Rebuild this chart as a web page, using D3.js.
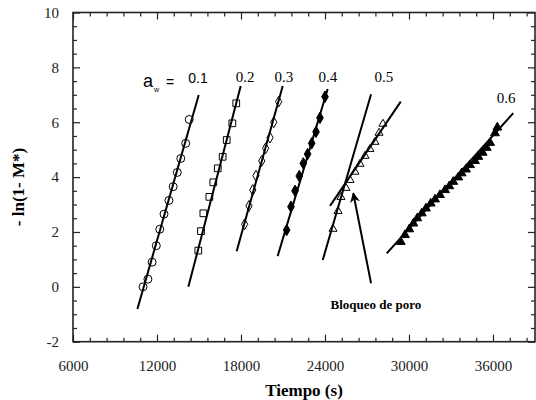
<!DOCTYPE html>
<html>
<head>
<meta charset="utf-8">
<script src="https://cdn.jsdelivr.net/npm/d3@7/dist/d3.min.js"></script>
<style>
  body { margin: 0; background: #fff; }
  svg { display: block; }
</style>
</head>
<body>
<svg id="chart" width="536" height="400"></svg>
<script>
// datos
const t01 = [11000, 11350, 11650, 11950, 12200, 12500, 12850, 13150, 13450, 13700, 14050, 14300]
const v01 = [0.0, 0.28, 0.9, 1.5, 2.1, 2.65, 3.15, 3.65, 4.17, 4.68, 5.23, 6.1]

const t02 = [14950, 15140, 15310, 15740, 16020, 16340, 16690, 16980, 17380, 17660]
const v02 = [1.32, 2.03, 2.68, 3.28, 3.81, 4.32, 4.74, 5.35, 5.96, 6.69]

const t03 = [18260, 18570, 18840, 19070, 19480, 19760, 20070, 20340, 20690]
const v03 = [2.28, 2.95, 3.53, 4.05, 4.59, 5.05, 5.44, 6.0, 6.75]

const t04 = [21260, 21570, 21860, 22160, 22450, 22760, 23050, 23360, 23640, 24000]
const v04 = [2.07, 2.92, 3.5, 4.04, 4.5, 4.84, 5.23, 5.65, 6.16, 6.93]

const t05 = [24570, 24930, 25140, 25500, 25790, 26140, 26500, 26860, 27210, 27570, 27860, 28140]
const v05 = [2.11, 2.76, 3.27, 3.6, 3.89, 4.19, 4.48, 4.77, 5.02, 5.28, 5.61, 5.94]

const t06 = [29410, 29710, 30020, 30310, 30590, 30910, 31210, 31550, 31860, 32210, 32570, 32880,
  33160, 33520, 33760, 34070, 34360, 34710, 34950, 35260, 35550, 35790, 36140, 36310]
const v06 = [1.64, 1.89, 2.1, 2.31, 2.5, 2.68, 2.86, 3.04, 3.19, 3.35, 3.53, 3.67,
  3.83, 3.99, 4.14, 4.28, 4.44, 4.59, 4.74, 4.89, 5.07, 5.25, 5.6, 5.81]

// rectas de ajuste [t1, v1, t2, v2]
const fits = [
  [10600, -0.81, 14980, 6.99],
  [14240, 0.0, 17980, 7.32],
  [17690, 1.3, 20980, 7.32],
  [20620, 1.12, 24190, 7.21],
  [23840, 0.98, 27290, 7.02],
  [24360, 2.95, 29410, 6.75],
  [28410, 1.22, 37450, 6.33]
]

const awLabels = ["0.1", "0.2", "0.3", "0.4", "0.5", "0.6"]
const awLabelT = [14930, 18290, 21070, 24210, 28210, 36930]
const awLabelV = [7.43, 7.47, 7.47, 7.47, 7.47, 6.7]

const xMajor = [6000, 12000, 18000, 24000, 30000, 36000]
const yMajor = [-2, 0, 2, 4, 6, 8, 10]
const xMinor = d3.range(6000, 39001, 1200).filter((d) => d % 6000 !== 0)
const yMinor = d3.range(-2, 10.01, 0.5).filter((d) => d % 2 !== 0)

const SERIF = '"Liberation Serif", "Times New Roman", serif'
const SANS = '"Liberation Sans", Arial, sans-serif'

const svg = d3.select("#chart")

const mLeft = 73, mRight = 535, mTop = 12.5, mBottom = 341.7
const x = d3.scaleLinear().domain([6000, 39000]).range([mLeft, mRight])
const y = d3.scaleLinear().domain([-2, 10]).range([mBottom, mTop])

// ejes (ticks hacia dentro)
function axisGroup(axis, tx, ty) {
  const g = svg.append("g").attr("transform", `translate(${tx},${ty})`).call(axis)
  g.attr("font-family", SERIF).attr("font-size", 15)
  g.select(".domain").remove()
  g.selectAll("line").attr("stroke", "#222").attr("stroke-width", 1.2)
  g.selectAll("text").attr("fill", "#222")
  return g
}

axisGroup(d3.axisBottom(x).tickValues(xMajor).tickSize(-7).tickPadding(18.5).tickFormat((d) => String(d)), 0, mBottom)
axisGroup(d3.axisBottom(x).tickValues(xMinor).tickSize(-4).tickFormat(""), 0, mBottom)
axisGroup(d3.axisTop(x).tickValues(xMajor).tickSize(-7).tickFormat(""), 0, mTop)
axisGroup(d3.axisTop(x).tickValues(xMinor).tickSize(-4).tickFormat(""), 0, mTop)

axisGroup(d3.axisLeft(y).tickValues(yMajor).tickSize(-7).tickPadding(14).tickFormat((d) => String(d)), mLeft, 0)
axisGroup(d3.axisLeft(y).tickValues(yMinor).tickSize(-4).tickFormat(""), mLeft, 0)
axisGroup(d3.axisRight(y).tickValues(yMajor).tickSize(-7).tickFormat(""), mRight, 0)
axisGroup(d3.axisRight(y).tickValues(yMinor).tickSize(-4).tickFormat(""), mRight, 0)

svg.append("rect")
  .attr("x", mLeft).attr("y", mTop)
  .attr("width", mRight - mLeft).attr("height", mBottom - mTop)
  .attr("fill", "none").attr("stroke", "#222").attr("stroke-width", 1.6)

// titulos
svg.append("text").attr("font-family", SERIF)
  .attr("x", 304).attr("y", 396)
  .attr("text-anchor", "middle").attr("font-size", 17).attr("font-weight", "bold")
  .text("Tiempo (s)")

svg.append("text").attr("font-family", SERIF)
  .attr("transform", "translate(24,187) rotate(-90)")
  .attr("text-anchor", "middle").attr("font-size", 17).attr("font-weight", "bold")
  .text("- ln(1- M*)")

// rectas
svg.append("g").selectAll("line").data(fits).join("line")
  .attr("x1", (d) => x(d[0])).attr("y1", (d) => y(d[1]))
  .attr("x2", (d) => x(d[2])).attr("y2", (d) => y(d[3]))
  .attr("stroke", "#000").attr("stroke-width", 2)

// puntos
const series = [
  { t: t01, v: v01, sym: d3.symbolCircle, size: 50, fill: "none" },
  { t: t02, v: v02, sym: d3.symbolSquare, size: 45, fill: "none" },
  { t: t03, v: v03, sym: d3.symbolDiamond, size: 34, fill: "none" },
  { t: t04, v: v04, sym: d3.symbolDiamond, size: 38, fill: "#000" },
  { t: t05, v: v05, sym: d3.symbolTriangle, size: 28, fill: "none" },
  { t: t06, v: v06, sym: d3.symbolTriangle, size: 34, fill: "#000" }
]

series.forEach((s) => {
  const pts = s.t.map((t, i) => [t, s.v[i]])
  svg.append("g").selectAll("path").data(pts).join("path")
    .attr("transform", (d) => `translate(${x(d[0])},${y(d[1])})`)
    .attr("d", d3.symbol().type(s.sym).size(s.size))
    .attr("fill", s.fill).attr("stroke", "#000").attr("stroke-width", 1)
})

// etiquetas aw
const aw = svg.append("text").attr("x", x(11000)).attr("y", y(7.28)).attr("font-family", SANS)
aw.append("tspan").attr("font-size", 18).text("a")
aw.append("tspan").attr("font-size", 7).attr("dy", 5).attr("dx", 1).text("w")
aw.append("tspan").attr("font-size", 14).attr("dy", -5).attr("dx", 7).text("=")

svg.append("g").selectAll("text").data(awLabels).join("text")
  .attr("font-family", (d, i) => (i === 0 ? SANS : SERIF))
  .attr("x", (d, i) => x(awLabelT[i])).attr("y", (d, i) => y(awLabelV[i]))
  .attr("text-anchor", "middle").attr("font-size", (d, i) => (i === 0 ? 14 : 15))
  .text((d) => d)

// flecha bloqueo de poro
svg.append("defs").append("marker")
  .attr("id", "arrow").attr("viewBox", "0 0 10 10")
  .attr("refX", 9).attr("refY", 5)
  .attr("markerWidth", 5).attr("markerHeight", 5)
  .attr("markerUnits", "strokeWidth").attr("orient", "auto")
  .append("path").attr("d", "M0,0 L10,5 L0,10 L3,5 Z").attr("fill", "#000")

svg.append("line")
  .attr("x1", x(27290)).attr("y1", y(0.13))
  .attr("x2", x(26020)).attr("y2", y(3.41))
  .attr("stroke", "#000").attr("stroke-width", 2)
  .attr("marker-end", "url(#arrow)")

svg.append("text").attr("font-family", SERIF)
  .attr("x", x(27640)).attr("y", y(-0.81))
  .attr("text-anchor", "middle").attr("font-size", 13).attr("font-weight", "bold")
  .text("Bloqueo de poro")
</script>
</body>
</html>
